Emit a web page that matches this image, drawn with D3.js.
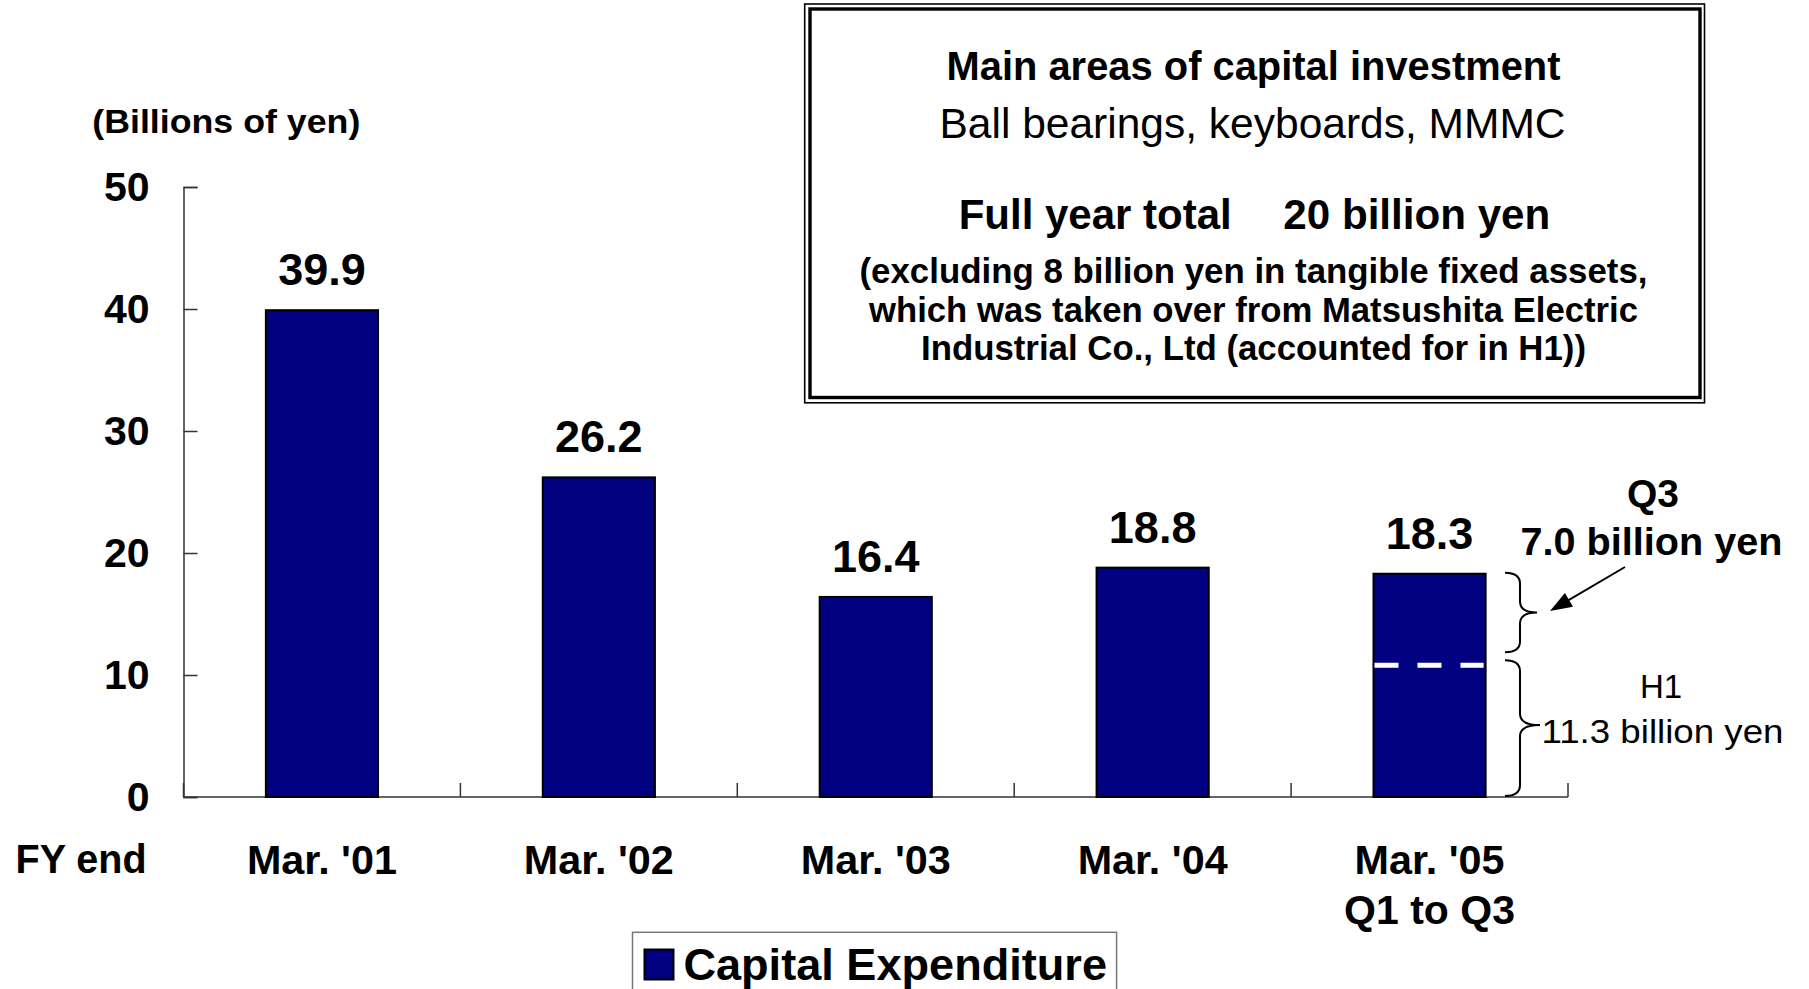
<!DOCTYPE html>
<html>
<head>
<meta charset="utf-8">
<script src="https://cdn.jsdelivr.net/npm/d3@7"></script>
<style>
  html, body { margin: 0; padding: 0; background: #fff; }
  svg { display: block; }
  text { font-family: "Liberation Sans", Arial, Helvetica, sans-serif; fill: #000; }
</style>
</head>
<body>
<svg id="chart" width="1809" height="989"></svg>
<script>
// ---- data ----
const categories = ["Mar. '01", "Mar. '02", "Mar. '03", "Mar. '04", "Mar. '05"];
const categorySubLabels = ["", "", "", "", "Q1 to Q3"];
const capex = [39.9, 26.2, 16.4, 18.8, 18.3];
const valueLabels = ["39.9", "26.2", "16.4", "18.8", "18.3"];
const yTicks = [0, 10, 20, 30, 40, 50];
const h1Value = 11.3;      // H1 portion of Mar. '05
const q3Value = 7.0;       // Q3 portion of Mar. '05
const dividerLevel = 10.8; // where the dashed split line sits in the picture
const seriesName = "Capital Expenditure";
const boxLines = [
  "Main areas of capital investment",
  "Ball bearings, keyboards, MMMC",
  "Full year total",
  "20 billion yen",
  "(excluding 8 billion yen in tangible fixed assets,",
  "which was taken over from Matsushita Electric",
  "Industrial Co., Ltd (accounted for in H1))"
];

// ---- layout ----
const NAVY = "#000080";
const svg = d3.select("#chart");

const y = d3.scaleLinear().domain([0, 50]).range([797, 187]);
const x = d3.scaleBand().domain(categories).range([183.5, 1568])
  .paddingInner(0.595).paddingOuter(0.2975);

function txt(g, s, px, py, size, weight, anchor, len) {
  const t = g.append("text")
    .attr("x", px).attr("y", py)
    .attr("font-size", size)
    .attr("font-weight", weight)
    .attr("text-anchor", anchor)
    .text(s);
  if (len) t.attr("textLength", len).attr("lengthAdjust", "spacingAndGlyphs");
  return t;
}

// y axis title
txt(svg, "(Billions of yen)", 92.3, 133.3, 34, "bold", "start", 268);

// y axis
const yAxis = d3.axisLeft(y).tickValues(yTicks).tickSize(-14).tickPadding(34)
  .tickFormat(d3.format("d"));
const yg = svg.append("g").attr("transform", "translate(183.5,0)").call(yAxis);
yg.select(".domain").attr("stroke", "#333").attr("stroke-width", 1.5);
yg.selectAll(".tick line").attr("stroke", "#333").attr("stroke-width", 1.5);
yg.selectAll(".tick text")
  .attr("font-size", 41).attr("font-weight", "bold")
  .attr("font-family", "'Liberation Sans', Arial, sans-serif")
  .attr("fill", "#000").attr("dy", "0.33em");

// x axis baseline and boundary ticks
const step = x.step();
const x0 = x.range()[0];
const boundaries = d3.range(categories.length + 1).map(i => x0 + i * step);
svg.append("line")
  .attr("x1", x0).attr("x2", x.range()[1])
  .attr("y1", y(0)).attr("y2", y(0))
  .attr("stroke", "#333").attr("stroke-width", 1.5);
svg.selectAll(".xtick").data(boundaries).join("line")
  .attr("class", "xtick")
  .attr("x1", d => d).attr("x2", d => d)
  .attr("y1", y(0)).attr("y2", y(0) - 14)
  .attr("stroke", "#333").attr("stroke-width", 1.5);

// bars
svg.selectAll(".bar").data(capex).join("rect")
  .attr("class", "bar")
  .attr("x", (d, i) => x(categories[i]))
  .attr("y", d => y(d))
  .attr("width", x.bandwidth())
  .attr("height", d => y(0) - y(d))
  .attr("fill", NAVY)
  .attr("stroke", "#000").attr("stroke-width", 2);

// value labels
svg.selectAll(".vlabel").data(capex).join("text")
  .attr("class", "vlabel")
  .attr("x", (d, i) => x(categories[i]) + x.bandwidth() / 2)
  .attr("y", d => y(d) - 25)
  .attr("text-anchor", "middle")
  .attr("font-size", 45).attr("font-weight", "bold")
  .text((d, i) => valueLabels[i]);

// category labels
categories.forEach((c, i) => {
  const cx = x(c) + x.bandwidth() / 2;
  txt(svg, c, cx, 874, 41, "bold", "middle", 150);
  if (categorySubLabels[i]) txt(svg, categorySubLabels[i], cx, 924, 41, "bold", "middle");
});
txt(svg, "FY end", 15.6, 873, 40, "bold", "start", 131);

// dashed divider in last bar (H1 / Q3 split)
const lastX = x(categories[4]);
svg.append("line")
  .attr("x1", lastX + 1).attr("x2", lastX + x.bandwidth() - 2)
  .attr("y1", y(dividerLevel)).attr("y2", y(dividerLevel))
  .attr("stroke", "#fff").attr("stroke-width", 5)
  .attr("stroke-dasharray", "24,19");

// braces
function bracePath(xs, xm, xt, yTop, yBot, yTip) {
  const r = 11;
  return `M${xs},${yTop} Q${xm},${yTop} ${xm},${yTop + r} L${xm},${yTip - r} ` +
    `Q${xm},${yTip} ${xt},${yTip} Q${xm},${yTip} ${xm},${yTip + r} ` +
    `L${xm},${yBot - r} Q${xm},${yBot} ${xs},${yBot}`;
}
const bTop = y(h1Value + q3Value);
const bMid = y(h1Value);
svg.append("path")
  .attr("d", bracePath(1505, 1520, 1537, bTop - 1, bMid - 7, (bTop + bMid - 8) / 2))
  .attr("fill", "none").attr("stroke", "#000").attr("stroke-width", 2);
svg.append("path")
  .attr("d", bracePath(1505, 1520, 1540, bMid + 1, y(0) - 1, (bMid + y(0)) / 2 - 3))
  .attr("fill", "none").attr("stroke", "#000").attr("stroke-width", 2);

// arrow
const ax1 = 1625, ay1 = 567, ax2 = 1550, ay2 = 611;
const ang = Math.atan2(ay2 - ay1, ax2 - ax1);
const ah = 22, aw = 8;
svg.append("line")
  .attr("x1", ax1).attr("y1", ay1)
  .attr("x2", ax2 - Math.cos(ang) * ah * 0.8).attr("y2", ay2 - Math.sin(ang) * ah * 0.8)
  .attr("stroke", "#000").attr("stroke-width", 2);
const bx = ax2 - Math.cos(ang) * ah, by = ay2 - Math.sin(ang) * ah;
svg.append("path")
  .attr("d", `M${ax2},${ay2} L${bx - Math.sin(ang) * aw},${by + Math.cos(ang) * aw} ` +
    `L${bx + Math.sin(ang) * aw},${by - Math.cos(ang) * aw} Z`)
  .attr("fill", "#000");

// annotation texts
txt(svg, "Q3", 1653, 507, 39, "bold", "middle");
txt(svg, d3.format(".1f")(q3Value) + " billion yen", 1651.5, 554.5, 39, "bold", "middle", 262);
txt(svg, "H1", 1661, 698, 33, "normal", "middle");
txt(svg, d3.format(".1f")(h1Value) + " billion yen", 1662.5, 742.5, 33, "normal", "middle", 242);

// info box
const box = svg.append("g");
box.append("rect").attr("x", 804.7).attr("y", 4).attr("width", 1704.5 - 804.7).attr("height", 402.8 - 4)
  .attr("fill", "#fff").attr("stroke", "#000").attr("stroke-width", 1.6);
box.append("rect").attr("x", 810).attr("y", 9).attr("width", 1700 - 810).attr("height", 397.5 - 9)
  .attr("fill", "none").attr("stroke", "#000").attr("stroke-width", 3.4);
txt(box, boxLines[0], 1253.5, 80, 41, "bold", "middle", 614);
txt(box, boxLines[1], 1252.5, 138, 42, "normal", "middle", 626);
txt(box, boxLines[2], 1231.7, 229.3, 42, "bold", "end", 273);
txt(box, boxLines[3], 1283.3, 229.3, 42, "bold", "start", 267);
txt(box, boxLines[4], 1253.5, 283.3, 35, "bold", "middle", 788);
txt(box, boxLines[5], 1253.5, 321.7, 35, "bold", "middle", 769);
txt(box, boxLines[6], 1253.5, 360, 35, "bold", "middle", 665);

// legend
const lg = svg.append("g");
lg.append("rect").attr("x", 632.5).attr("y", 932.3).attr("width", 1116.6 - 632.5).attr("height", 80)
  .attr("fill", "#fff").attr("stroke", "#777").attr("stroke-width", 1.5);
lg.append("rect").attr("x", 644.5).attr("y", 949.5).attr("width", 29).attr("height", 30)
  .attr("fill", NAVY).attr("stroke", "#000").attr("stroke-width", 2);
txt(lg, seriesName, 683.4, 980, 45, "bold", "start", 423.6);
</script>
</body>
</html>
